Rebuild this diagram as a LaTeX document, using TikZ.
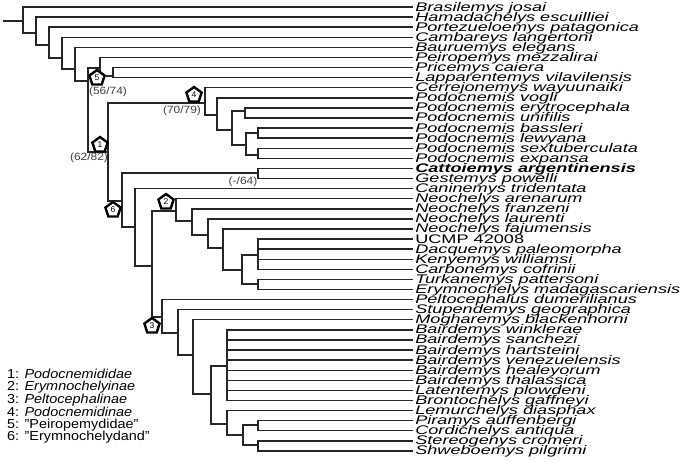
\documentclass[tikz,border=0pt]{standalone}
\usepackage{fontspec}
\setmainfont{Liberation Sans}
\usepackage{tikz}
\usetikzlibrary{shapes.geometric}
\definecolor{TreeInk}{HTML}{262626}
\definecolor{SupGray}{HTML}{404040}

\begin{document}
\begin{tikzpicture}[x=1pt,y=-1pt]
\tikzstyle{branch}=[draw=TreeInk,line width=1.4pt]
\tikzstyle{taxon}=[anchor=west,inner sep=1.4pt,text height=8pt,text depth=0pt,xscale=1.45,
                   font=\fontsize{12.5}{12.5}\selectfont\itshape]
\tikzstyle{clade}=[regular polygon,regular polygon sides=5,draw=black,line width=2.4pt,fill=white,
                   inner sep=0pt,minimum size=16pt,font=\fontsize{8.5}{8.5}\selectfont]
\tikzstyle{support}=[text=SupGray,inner sep=0pt,xscale=1.14,font=\fontsize{10.5}{10.5}\selectfont]
\tikzstyle{key}=[anchor=west,inner sep=0pt,xscale=1.11,font=\fontsize{13}{13}\selectfont]
\useasboundingbox (0,0) rectangle (685,461);

% terminal taxa
\foreach \i/\name in {1/Brasilemys josai,2/Hamadachelys escuilliei,3/Portezueloemys patagonica,
  4/Cambareys langertoni,5/Bauruemys elegans,6/Peiropemys mezzalirai,7/Pricemys caiera,
  8/Lapparentemys vilavilensis,9/Cerrejonemys wayuunaiki,10/Podocnemis vogli,
  11/Podocnemis erytrocephala,12/Podocnemis unifilis,13/Podocnemis bassleri,
  14/Podocnemis lewyana,15/Podocnemis sextuberculata,16/Podocnemis expansa,
  17/{\bfseries Cattoiemys argentinensis},18/Gestemys powelli,19/Caninemys tridentata,
  20/Neochelys arenarum,21/Neochelys franzeni,22/Neochelys laurenti,23/Neochelys fajumensis,
  24/{\upshape UCMP 42008},25/Dacquemys paleomorpha,26/Kenyemys williamsi,
  27/Carbonemys cofrinii,28/Turkanemys pattersoni,29/Erymnochelys madagascariensis,
  30/Peltocephalus dumerilianus,31/Stupendemys geographica,32/Mogharemys blackenhorni,
  33/Bairdemys winklerae,34/Bairdemys sanchezi,35/Bairdemys hartsteini,
  36/Bairdemys venezuelensis,37/Bairdemys healeyorum,38/Bairdemys thalassica,
  39/Latentemys plowdeni,40/Brontochelys gaffneyi,41/Lemurchelys diasphax,
  42/Piramys auffenbergi,43/Cordichelys antiqua,44/Stereogenys cromeri,45/Shweboemys pilgrimi}
  \node[taxon] (t\i) at (413,{7+10.09*(\i-1)}) {\name};

% internal nodes
\coordinate (root) at (3,21);
\coordinate (nA) at (23,21);
\coordinate (nB) at (36,33);
\coordinate (nC) at (49,45);
\coordinate (nD) at (62,58);
\coordinate (nE) at (75,69);
\coordinate (nF) at (88,81);
\coordinate (peirop) at (100,68);
\coordinate (nG) at (113,76);
\coordinate (podocnem) at (108,152);
\coordinate (podocnin) at (205,103);
\coordinate (nH) at (217,115);
\coordinate (nI) at (232,130);
\coordinate (nJ) at (245,111);
\coordinate (nK) at (246,145);
\coordinate (nL) at (258,133);
\coordinate (nM) at (258,155);
\coordinate (erymnod) at (122,201);
\coordinate (nCG) at (258,173);
\coordinate (nP) at (135,227);
\coordinate (nQ) at (152,266);
\coordinate (erymnin) at (176,211);
\coordinate (nR) at (192,221);
\coordinate (nS) at (208,235);
\coordinate (nT) at (223,248);
\coordinate (nU) at (242,270);
\coordinate (nV) at (258,255);
\coordinate (nW) at (258,284);
\coordinate (peltoc) at (162,317);
\coordinate (nX) at (178,333);
\coordinate (nY) at (193,355);
\coordinate (nZ) at (211,394);
\coordinate (nBA) at (227,366);
\coordinate (nLB) at (227,424);
\coordinate (nLC) at (243,435);
\coordinate (nPC) at (258,425);
\coordinate (nSS) at (258,445);

\draw[branch] (root) -- (nA);
\foreach \p/\c in {nA/t1.west,nA/nB,nB/t2.west,nB/nC,nC/t3.west,nC/nD,nD/t4.west,nD/nE,
  nE/t5.west,nE/nF,nF/peirop,nF/podocnem,peirop/t6.west,peirop/nG,nG/t7.west,nG/t8.west,
  podocnem/podocnin,podocnem/erymnod,podocnin/t9.west,podocnin/nH,nH/t10.west,nH/nI,
  nI/nJ,nI/nK,nJ/t11.west,nJ/t12.west,nK/nL,nK/nM,nL/t13.west,nL/t14.west,
  nM/t15.west,nM/t16.west,erymnod/nCG,erymnod/nP,nCG/t17.west,nCG/t18.west,
  nP/t19.west,nP/nQ,nQ/erymnin,nQ/peltoc,erymnin/t20.west,erymnin/nR,nR/t21.west,nR/nS,
  nS/t22.west,nS/nT,nT/t23.west,nT/nU,nU/nV,nU/nW,nV/t24.west,nV/t25.west,nV/t26.west,
  nV/t27.west,nW/t28.west,nW/t29.west,peltoc/t30.west,peltoc/nX,nX/t31.west,nX/nY,
  nY/t32.west,nY/nZ,nZ/nBA,nZ/nLB,nBA/t33.west,nBA/t34.west,nBA/t35.west,nBA/t36.west,
  nBA/t37.west,nBA/t38.west,nBA/t39.west,nBA/t40.west,nLB/t41.west,nLB/nLC,
  nLC/nPC,nLC/nSS,nPC/t42.west,nPC/t43.west,nSS/t44.west,nSS/t45.west}
  \draw[branch] (\p) |- (\c);

% clade markers and support values
\node[clade] (c5) at (97,78) {5};
\node[clade] (c1) at (100,145) {1};
\node[clade] (c4) at (194,95) {4};
\node[clade] (c6) at (113,210) {6};
\node[clade] (c2) at (166,202) {2};
\node[clade] (c3) at (152,326) {3};
\node[support] (s5) at (108,92) {(56/74)};
\node[support] (s1) at (89,158) {(62/82)};
\node[support] (s4) at (182,111) {(70/79)};
\node[support] (s6) at (243,182) {(-/64)};

% key
\node[key] (k1) at (7,374) {1: \textit{Podocnemididae}};
\node[key] (k2) at (7,387) {2: \textit{Erymnochelyinae}};
\node[key] (k3) at (7,400) {3: \textit{Peltocephalinae}};
\node[key] (k4) at (7,412) {4: \textit{Podocnemidinae}};
\node[key] (k5) at (7,425) {5: "Peiropemydidae"};
\node[key] (k6) at (7,437) {6: "Erymnochelydand"};
\end{tikzpicture}
\end{document}
